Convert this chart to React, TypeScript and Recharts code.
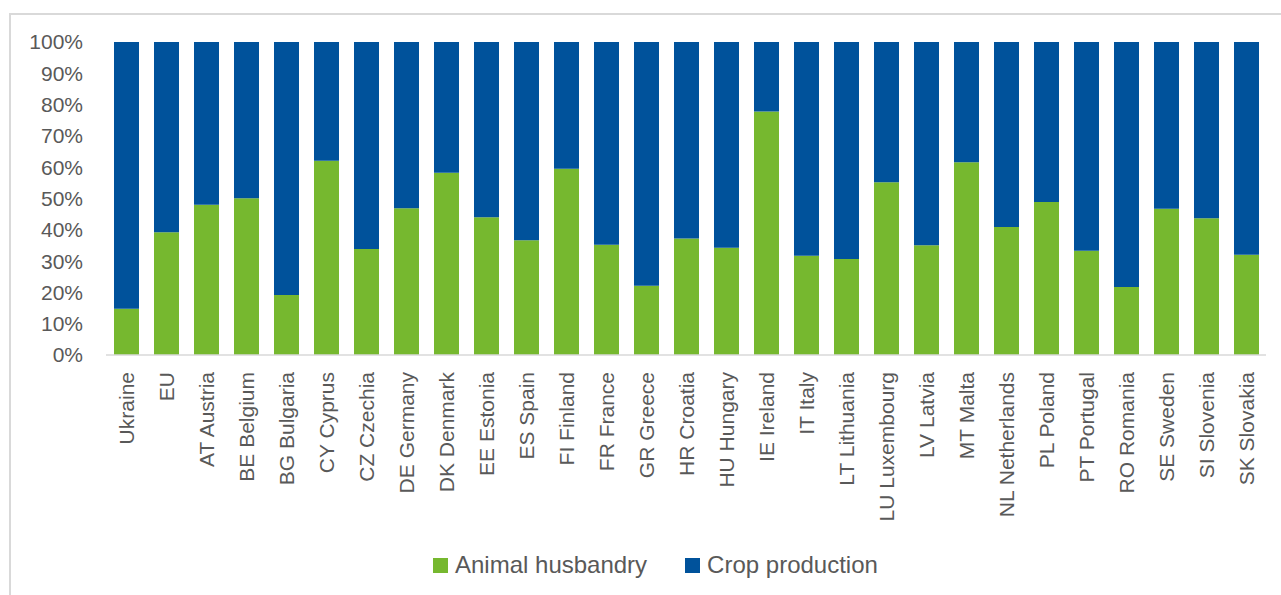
import React from "react";
import { BarChart, Bar, XAxis, YAxis, Legend } from "recharts";

// Share of agricultural output by branch, percent
const categories = [
  "Ukraine", "EU", "AT Austria", "BE Belgium", "BG Bulgaria", "CY Cyprus", "CZ Czechia",
  "DE Germany", "DK Denmark", "EE Estonia", "ES Spain", "FI Finland", "FR France",
  "GR Greece", "HR Croatia", "HU Hungary", "IE Ireland", "IT Italy", "LT Lithuania",
  "LU Luxembourg", "LV Latvia", "MT Malta", "NL Netherlands", "PL Poland", "PT Portugal",
  "RO Romania", "SE Sweden", "SI Slovenia", "SK Slovakia",
];

const animalHusbandry = [
  14.8, 39.2, 48.0, 50.1, 19.2, 62.1, 33.9,
  46.9, 58.2, 44.0, 36.7, 59.5, 35.2,
  22.1, 37.2, 34.3, 77.8, 31.7, 30.7,
  55.2, 35.1, 61.6, 40.9, 48.9, 33.3,
  21.7, 46.7, 43.7, 32.0,
];

const cropProduction = animalHusbandry.map((v) => +(100 - v).toFixed(1));

const yTicks = [0, 10, 20, 30, 40, 50, 60, 70, 80, 90, 100];

const seriesNames = { animal: "Animal husbandry", crop: "Crop production" };

const GREEN = "#76B82F";
const BLUE = "#00529B";
const TEXT = "#595959";
const GRID = "#D9D9D9";
const FONT = "'Liberation Sans', Arial, sans-serif";

const data = categories.map((name, i) => ({
  name,
  animal: animalHusbandry[i],
  crop: cropProduction[i],
}));

const CategoryTick = (props: any) => {
  const { x, y, payload } = props;
  return (
    <g transform={`translate(${x},${y})`}>
      <text
        transform="rotate(-90)"
        x={-17}
        y={0}
        dy="0.36em"
        textAnchor="end"
        fill={TEXT}
        fontSize={21}
        fontFamily={FONT}
      >
        {payload.value}
      </text>
    </g>
  );
};

const LegendContent = () => {
  const items = [
    { label: seriesNames.animal, color: GREEN },
    { label: seriesNames.crop, color: BLUE },
  ];
  return (
    <div
      style={{
        height: 40,
        display: "flex",
        alignItems: "center",
        paddingLeft: 425,
        fontFamily: FONT,
        fontSize: 24,
        color: TEXT,
      }}
    >
      {items.map((it, i) => (
        <div
          key={it.label}
          style={{ display: "flex", alignItems: "center", marginRight: i === 0 ? 38 : 0 }}
        >
          <span
            style={{ width: 15, height: 15, background: it.color, display: "inline-block", marginRight: 7 }}
          />
          <span style={{ lineHeight: "28px" }}>{it.label}</span>
        </div>
      ))}
    </div>
  );
};

export default function App() {
  return (
    <div
      style={{
        position: "fixed",
        left: 0,
        top: 0,
        width: 1281,
        height: 595,
        overflow: "hidden",
        background: "#fff",
      }}
    >
      <div
        style={{
          position: "absolute",
          left: 9,
          top: 13,
          width: 1272,
          height: 582,
          borderLeft: `2px solid ${GRID}`,
          borderTop: `2px solid ${GRID}`,
          boxSizing: "border-box",
        }}
      />
      <div style={{ position: "absolute", left: 8, top: 8 }}>
        <BarChart
          width={1273}
          height={587}
          data={data}
          margin={{ top: 34, right: 15, left: 0, bottom: 10 }}
          barSize={25}
        >
          <XAxis
            dataKey="name"
            interval={0}
            height={190}
            tickLine={false}
            tickSize={0}
            tickMargin={0}
            axisLine={{ stroke: GRID, strokeWidth: 1.5 }}
            tick={<CategoryTick />}
          />
          <YAxis
            width={98}
            domain={[0, 100]}
            ticks={yTicks}
            interval={0}
            tickFormatter={(v: number) => `${v}%`}
            axisLine={false}
            tickLine={false}
            tickSize={0}
            tickMargin={23}
            tick={{ fill: TEXT, fontSize: 21, fontFamily: FONT }}
          />
          <Legend verticalAlign="bottom" align="left" content={<LegendContent />} />
          <Bar dataKey="animal" name={seriesNames.animal} stackId="s" fill={GREEN} isAnimationActive={false} />
          <Bar dataKey="crop" name={seriesNames.crop} stackId="s" fill={BLUE} isAnimationActive={false} />
        </BarChart>
      </div>
    </div>
  );
}
